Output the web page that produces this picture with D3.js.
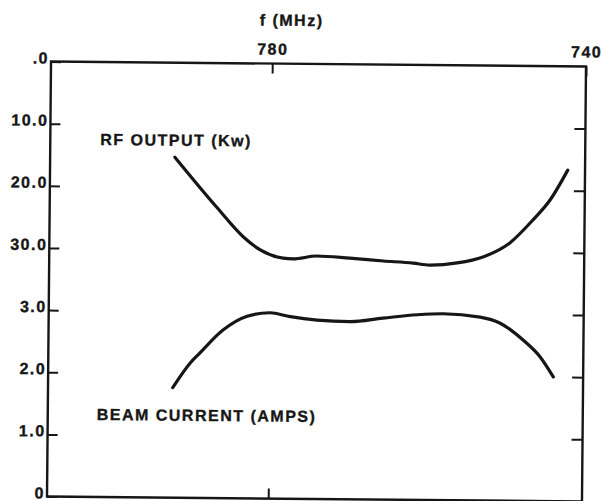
<!DOCTYPE html>
<html>
<head>
<meta charset="utf-8">
<script src="https://cdn.jsdelivr.net/npm/d3@7"></script>
<style>
  html, body { margin: 0; padding: 0; background: #fff; }
  svg text {
    font-family: "Liberation Sans", Arial, Helvetica, sans-serif;
    font-weight: bold;
    fill: #161616;
    stroke: #161616;
    stroke-width: 0.35px;
    letter-spacing: 1.5px;
  }
</style>
</head>
<body>
<svg id="chart" width="602" height="501"></svg>
<script>
// ---- data ----------------------------------------------------------
// Frequency axis (MHz) runs from high on the left to low on the right
const freqDomain = [808.2, 740];
const freqTicks = [780, 740];
const freqTitle = "f (MHz)";

// Shared left axis: lower half beam current (A), upper half RF output (kW)
const leftTickLabels = ["0", "1.0", "2.0", "3.0", "30.0", "20.0", "10.0", ".0"];

// RF output (kW) versus frequency
const rfFreq = [792.3, 786.9, 783.5, 781.3, 778.4, 777.1, 774.1, 769.9, 765.6, 761.8, 759.7, 756.2, 752.9, 749.5, 746.6, 744.4, 742.2];
const rfKw   = [15.2, 23.2, 27.9, 30.0, 31.3, 31.4, 30.9, 31.2, 31.6, 31.9, 32.2, 31.8, 30.8, 28.5, 24.8, 21.5, 16.7];

// Beam current (A) versus frequency
const beamFreq = [792.3, 790.1, 788.9, 786.0, 782.9, 780.0, 777.4, 774.0, 769.8, 765.6, 761.2, 757.9, 753.2, 750.7, 747.7, 745.5, 743.8];
const beamAmps = [1.77, 2.17, 2.33, 2.70, 2.93, 2.99, 2.93, 2.88, 2.86, 2.92, 2.98, 3.00, 2.95, 2.86, 2.59, 2.32, 2.00];

const rfLabel = "RF OUTPUT (Kw)";
const beamLabel = "BEAM CURRENT (AMPS)";

// ---- layout --------------------------------------------------------
const frame = { left: 49, right: 584, top: 64, bottom: 499 };
const tilt = 0.53; // degrees, the plotted sheet sits slightly askew
const ink = "#161616";
const fontSize = "16px";

const svg = d3.select("#chart");
const g = svg.append("g")
  .attr("transform", `rotate(${tilt}, ${(frame.left + frame.right) / 2}, ${(frame.top + frame.bottom) / 2})`);

const x = d3.scaleLinear().domain(freqDomain).range([frame.left, frame.right]);
const yIdx = d3.scaleLinear().domain([0, leftTickLabels.length - 1]).range([frame.bottom, frame.top]);
const step = (frame.bottom - frame.top) / (leftTickLabels.length - 1);
// RF output grows downward from the top edge; beam current grows upward from the bottom
const yRF = d3.scaleLinear().domain([0, 30]).range([frame.top, frame.top + 3 * step]);
const yBeam = d3.scaleLinear().domain([0, 3]).range([frame.bottom, frame.bottom - 3 * step]);

// frame
g.append("rect")
  .attr("x", frame.left).attr("y", frame.top)
  .attr("width", frame.right - frame.left)
  .attr("height", frame.bottom - frame.top)
  .attr("fill", "none").attr("stroke", ink).attr("stroke-width", 2.4);

function styleAxis(sel) {
  sel.select(".domain").remove();
  sel.selectAll(".tick line").attr("stroke", ink).attr("stroke-width", 2);
  sel.selectAll(".tick text").style("font-size", fontSize).attr("fill", ink);
}

// left axis
g.append("g")
  .attr("transform", `translate(${frame.left},0)`)
  .call(d3.axisLeft(yIdx)
    .tickValues(d3.range(leftTickLabels.length))
    .tickFormat(i => leftTickLabels[i])
    .tickSize(-10).tickPadding(2))
  .call(styleAxis)
  .call(s => s.selectAll(".tick text").attr("dy", "0.1em"));

// right axis (ticks only)
g.append("g")
  .attr("transform", `translate(${frame.right},0)`)
  .call(d3.axisRight(yIdx)
    .tickValues(d3.range(1, leftTickLabels.length - 1))
    .tickFormat("")
    .tickSize(-11))
  .call(styleAxis);

// top axis
g.append("g")
  .attr("transform", `translate(0,${frame.top})`)
  .call(d3.axisTop(x)
    .tickValues(freqTicks)
    .tickFormat(d3.format("d"))
    .tickSize(-10).tickPadding(9))
  .call(styleAxis);

// bottom axis (tick only)
g.append("g")
  .attr("transform", `translate(0,${frame.bottom})`)
  .call(d3.axisBottom(x)
    .tickValues([freqTicks[0]])
    .tickFormat("")
    .tickSize(-10))
  .call(styleAxis);

// axis title
g.append("text")
  .attr("x", x(780) + 19).attr("y", 26)
  .attr("text-anchor", "middle")
  .style("font-size", fontSize)
  .text(freqTitle);

// curves
const line = d3.line().curve(d3.curveMonotoneX);

g.append("path")
  .attr("d", line(rfFreq.map((f, i) => [x(f), yRF(rfKw[i])])))
  .attr("fill", "none").attr("stroke", ink)
  .attr("stroke-width", 3.2).attr("stroke-linecap", "round");

g.append("path")
  .attr("d", line(beamFreq.map((f, i) => [x(f), yBeam(beamAmps[i])])))
  .attr("fill", "none").attr("stroke", ink)
  .attr("stroke-width", 3.2).attr("stroke-linecap", "round");

// curve labels
g.append("text")
  .attr("x", 99).attr("y", 147)
  .style("font-size", fontSize)
  .text(rfLabel);

g.append("text")
  .attr("x", 98).attr("y", 422)
  .style("font-size", fontSize)
  .text(beamLabel);
</script>
</body>
</html>
